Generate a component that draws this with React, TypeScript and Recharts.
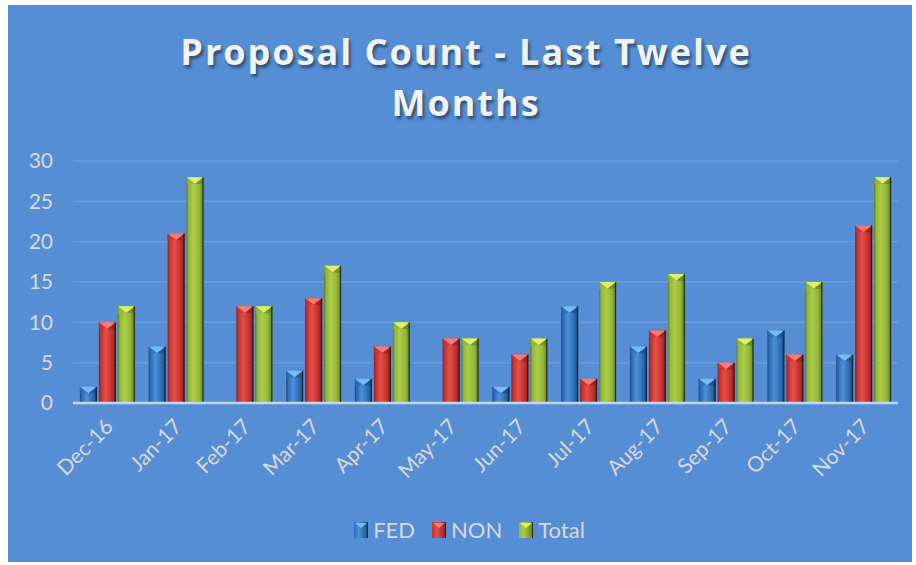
import React from 'react';
import { BarChart, Bar, XAxis, YAxis, CartesianGrid, Legend } from 'recharts';

const months = ['Dec-16', 'Jan-17', 'Feb-17', 'Mar-17', 'Apr-17', 'May-17', 'Jun-17', 'Jul-17', 'Aug-17', 'Sep-17', 'Oct-17', 'Nov-17'];
const fedValues = [2, 7, 0, 4, 3, 0, 2, 12, 7, 3, 9, 6];
const nonValues = [10, 21, 12, 13, 7, 8, 6, 3, 9, 5, 6, 22];
const totalValues = [12, 28, 12, 17, 10, 8, 8, 15, 16, 8, 15, 28];
const yTicks = [0, 5, 10, 15, 20, 25, 30];

const data = months.map((m, i) => ({ month: m, FED: fedValues[i], NON: nonValues[i], Total: totalValues[i] }));

const FONT = 'Lato, "Open Sans", sans-serif';
const TEXT = '#D9D9D9';

const palette: Record<string, { light: string; base: string; dark: string; tip: string }> = {
  FED: { light: '#4C90DA', base: '#2E6DB6', dark: '#1C4A80', tip: '#74BDF5' },
  NON: { light: '#E2504B', base: '#C8322E', dark: '#86201D', tip: '#F47C78' },
  Total: { light: '#ADCD48', base: '#93B63A', dark: '#5F7A20', tip: '#DDF070' },
};

const BevelBar = (key: string) => (props: any) => {
  const { x, y, width, height } = props;
  if (!height || height <= 0) return null;
  const c = palette[key];
  const tipH = Math.min(width * 0.38, height);
  return (
    <g>
      <rect x={x} y={y} width={width} height={height} fill={`url(#grad-${key})`} />
      <polygon points={`${x},${y} ${x + width},${y} ${x + width / 2},${y + tipH}`} fill={c.tip} />
      <polygon points={`${x},${y} ${x + width / 2},${y + tipH} ${x},${y + tipH + 1}`} fill={c.base} opacity={0.6} />
      <polygon points={`${x + width},${y} ${x + width / 2},${y + tipH} ${x + width},${y + tipH + 1}`} fill={c.dark} opacity={0.6} />
      <rect x={x + width - 1.2} y={y} width={1.2} height={height} fill="#111" opacity={0.75} />
    </g>
  );
};

const XTick = (props: any) => {
  const { x, y, payload } = props;
  const ax = x + 7;
  const ay = y + 17;
  return (
    <text
      x={ax}
      y={ay}
      transform={`rotate(-45, ${ax}, ${ay})`}
      textAnchor="end"
      fill={TEXT}
      fontSize={21}
      fontFamily={FONT}
    >
      {payload.value}
    </text>
  );
};

const LegendIcon = ({ k }: { k: string }) => {
  const c = palette[k];
  return (
    <svg width={14} height={16} style={{ marginRight: 5 }}>
      <rect x={0} y={0} width={14} height={16} fill={`url(#lg-${k})`} />
      <polygon points="1,1 13,1 7,6" fill={c.tip} />
      <rect x={13} y={0} width={1} height={16} fill="#111" opacity={0.7} />
      <defs>
        <linearGradient id={`lg-${k}`} x1="0" y1="0" x2="1" y2="0">
          <stop offset="0" stopColor={c.base} />
          <stop offset="0.35" stopColor={c.light} />
          <stop offset="1" stopColor={c.dark} />
        </linearGradient>
      </defs>
    </svg>
  );
};

const LegendContent = (props: any) => {
  const items = ['FED', 'NON', 'Total'];
  return (
    <div style={{ display: 'flex', justifyContent: 'center', alignItems: 'center', paddingLeft: 50 }}>
      {items.map((k) => (
        <div key={k} style={{ display: 'flex', alignItems: 'center', marginRight: 17 }}>
          <LegendIcon k={k} />
          <span style={{ color: TEXT, fontSize: 22, fontFamily: FONT }}>{k}</span>
        </div>
      ))}
    </div>
  );
};

export default function App() {
  return (
    <div style={{ position: 'absolute', left: 0, top: 0, width: 916, height: 565, background: '#fff' }}>
      <div style={{ position: 'absolute', left: 8, top: 5, width: 904, height: 557, background: '#558ED5' }}>
        <div
          style={{
            position: 'absolute',
            left: 6,
            top: 21,
            width: 904,
            textAlign: 'center',
            color: '#F2F2F2',
            fontFamily: '"Open Sans", sans-serif',
            fontWeight: 700,
            fontSize: 36,
            lineHeight: '51px',
            letterSpacing: 2,
            textShadow: '2px 3px 3px rgba(0,0,0,0.45)',
          }}
        >
          Proposal Count - Last Twelve
          <br />
          Months
        </div>
        <BarChart
          width={904}
          height={557}
          data={data}
          margin={{ top: 156, right: 14, left: 0, bottom: 12 }}
          barCategoryGap="10%"
          barGap={2}
        >
          <defs>
            {Object.keys(palette).map((k) => (
              <linearGradient key={k} id={`grad-${k}`} x1="0" y1="0" x2="1" y2="0">
                <stop offset="0" stopColor={palette[k].dark} />
                <stop offset="0.12" stopColor={palette[k].base} />
                <stop offset="0.4" stopColor={palette[k].light} />
                <stop offset="0.75" stopColor={palette[k].base} />
                <stop offset="1" stopColor={palette[k].dark} />
              </linearGradient>
            ))}
          </defs>
          <CartesianGrid vertical={false} stroke="#6A9DDD" strokeWidth={1.5} />
          <XAxis
            dataKey="month"
            interval={0}
            height={113}
            tickLine={false}
            axisLine={{ stroke: '#C5D5EC', strokeWidth: 2.5 }}
            tick={<XTick />}
          />
          <YAxis
            width={65}
            domain={[0, 30]}
            ticks={yTicks}
            tickLine={false}
            axisLine={false}
            tick={{ fill: TEXT, fontSize: 21, fontFamily: FONT }}
            tickMargin={14}
          />
          <Legend verticalAlign="bottom" height={34} content={<LegendContent />} />
          <Bar dataKey="FED" fill={palette.FED.base} isAnimationActive={false} shape={BevelBar('FED')} />
          <Bar dataKey="NON" fill={palette.NON.base} isAnimationActive={false} shape={BevelBar('NON')} />
          <Bar dataKey="Total" fill={palette.Total.base} isAnimationActive={false} shape={BevelBar('Total')} />
        </BarChart>
      </div>
    </div>
  );
}
